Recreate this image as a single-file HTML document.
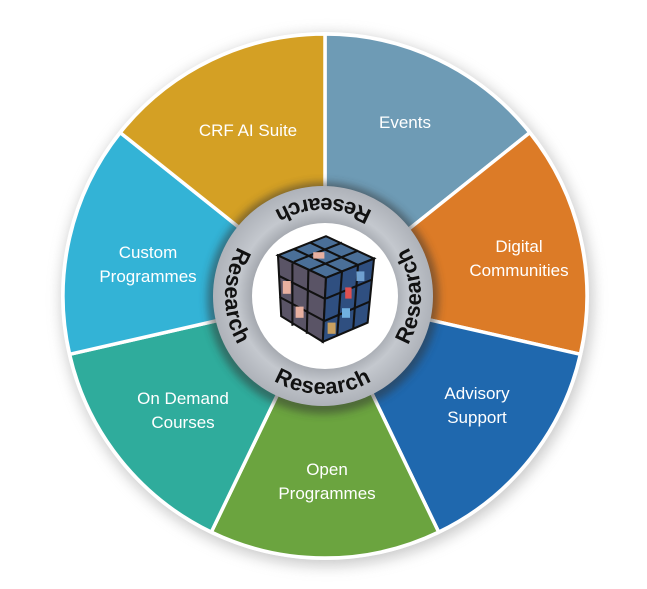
<!DOCTYPE html>
<html><head><style>
html,body{margin:0;padding:0;background:#fff;width:647px;height:589px;overflow:hidden}
svg{display:block}
.l{font-family:"Liberation Sans",sans-serif;font-size:17px;fill:#fff;text-anchor:middle}
.r{font-family:"Liberation Sans",sans-serif;font-size:22px;font-weight:bold;fill:#111;letter-spacing:0.5px}
</style></head><body>
<svg width="647" height="589" viewBox="0 0 647 589" xmlns="http://www.w3.org/2000/svg">
<defs>
<filter id="sh" x="-20%" y="-20%" width="140%" height="140%"><feGaussianBlur stdDeviation="7"/></filter>
<filter id="sh2" x="-20%" y="-20%" width="140%" height="140%"><feGaussianBlur stdDeviation="4"/></filter>
<radialGradient id="rg" cx="50%" cy="50%" r="50%">
<stop offset="0.6" stop-color="#9a9ea5"/><stop offset="0.78" stop-color="#c4c8ce"/><stop offset="1" stop-color="#aeb2b9"/></radialGradient>
<path id="cp" d="M 392.3 226.7 A 98 98 0 0 0 225 296 A 98 98 0 0 0 421 296 A 98 98 0 0 0 392.3 226.7"/>
</defs>
<circle cx="327" cy="300" r="266" fill="#999" opacity="0.5" filter="url(#sh)"/>
<circle cx="325" cy="296" r="264" fill="#fff"/>
<g stroke="#fff" stroke-width="3.5">
<path d="M325,296 L325,34 A262,262 0 0 1 529.8,132.6 Z" fill="#6E9BB5"/>
<path d="M325,296 L529.8,132.6 A262,262 0 0 1 580.4,354.3 Z" fill="#DC7B27"/>
<path d="M325,296 L580.4,354.3 A262,262 0 0 1 438.7,532.1 Z" fill="#1F68AE"/>
<path d="M325,296 L438.7,532.1 A262,262 0 0 1 211.3,532.1 Z" fill="#6BA43F"/>
<path d="M325,296 L211.3,532.1 A262,262 0 0 1 69.6,354.3 Z" fill="#2FAC9C"/>
<path d="M325,296 L69.6,354.3 A262,262 0 0 1 120.2,132.6 Z" fill="#33B3D6"/>
<path d="M325,296 L120.2,132.6 A262,262 0 0 1 325,34 Z" fill="#D4A024"/>
</g>
<circle cx="323" cy="298" r="116" fill="#333" opacity="0.5" filter="url(#sh2)"/>
<circle cx="323" cy="296" r="110" fill="url(#rg)"/>
<circle cx="325" cy="296" r="73" fill="#fff"/>
<g transform="translate(326,289) scale(1.6) translate(-326,-269)">
<g stroke="#111" stroke-width="1.3">
<polygon points="296,248 326,236 356,250 326,262" fill="#4a6f98"/>
<polygon points="296,248 326,262 324,302 298,286" fill="#5a5466"/>
<polygon points="326,262 356,250 352,290 324,302" fill="#2f4f80"/>
<line x1="306" y1="244" x2="336" y2="258"/><line x1="316" y1="240" x2="346" y2="254"/>
<line x1="306" y1="252" x2="336" y2="240"/><line x1="316" y1="257" x2="346" y2="245"/>
<line x1="305" y1="253" x2="305" y2="292"/><line x1="315" y1="257" x2="314" y2="297"/>
<line x1="297" y1="261" x2="325" y2="275"/><line x1="297" y1="274" x2="325" y2="289"/>
<line x1="336" y1="258" x2="333" y2="298"/><line x1="346" y1="254" x2="343" y2="294"/>
<line x1="326" y1="275" x2="355" y2="263"/><line x1="325" y1="289" x2="353" y2="277"/>
</g>
<rect x="299" y="264" width="5" height="8" fill="#e8b0a0"/><rect x="338" y="268" width="4" height="7" fill="#e05050"/>
<rect x="327" y="290" width="5" height="7" fill="#c9a060"/><rect x="318" y="246" width="7" height="4" fill="#e8b0a0"/>
<rect x="345" y="258" width="5" height="6" fill="#6fa0d0"/><rect x="307" y="280" width="5" height="7" fill="#e8b0a0"/>
<rect x="336" y="281" width="5" height="6" fill="#70b0e0"/>
</g>
<text class="r"><textPath href="#cp" startOffset="12.5%" text-anchor="middle">Research</textPath></text>
<text class="r"><textPath href="#cp" startOffset="37.5%" text-anchor="middle">Research</textPath></text>
<text class="r"><textPath href="#cp" startOffset="62.5%" text-anchor="middle">Research</textPath></text>
<text class="r"><textPath href="#cp" startOffset="87.5%" text-anchor="middle">Research</textPath></text>
<text class="l" x="248" y="136">CRF AI Suite</text>
<text class="l" x="405" y="128">Events</text>
<text class="l" x="519" y="252">Digital</text><text class="l" x="519" y="276">Communities</text>
<text class="l" x="477" y="399">Advisory</text><text class="l" x="477" y="423">Support</text>
<text class="l" x="327" y="475">Open</text><text class="l" x="327" y="499">Programmes</text>
<text class="l" x="183" y="404">On Demand</text><text class="l" x="183" y="428">Courses</text>
<text class="l" x="148" y="258">Custom</text><text class="l" x="148" y="282">Programmes</text>
</svg>
</body></html>
